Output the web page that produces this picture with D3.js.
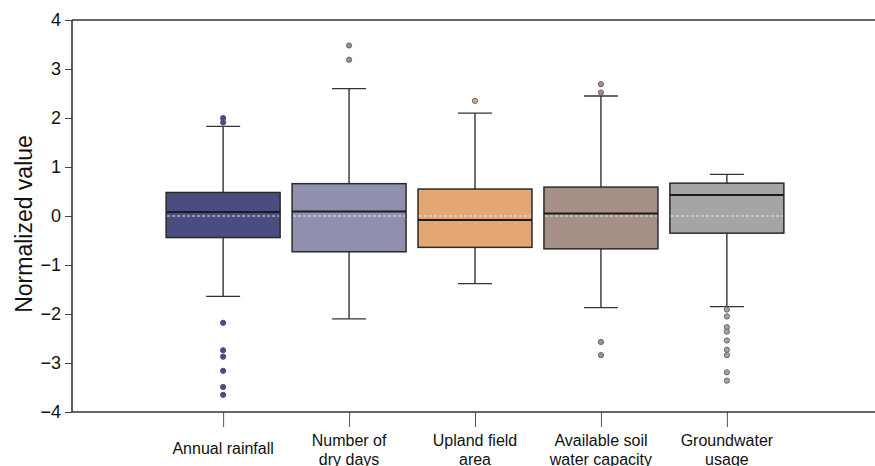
<!DOCTYPE html>
<html>
<head>
<meta charset="utf-8">
<script src="https://cdn.jsdelivr.net/npm/d3@7"></script>
<style>
  body { margin: 0; background: #fff; }
  text { font-family: "Liberation Sans", Arial, sans-serif; }
</style>
</head>
<body>
<svg id="chart" width="875" height="466"></svg>
<script>
// categories, one entry per line of the tick label
var categories = [
  ["Annual rainfall"],
  ["Number of", "dry days"],
  ["Upland field", "area"],
  ["Available soil", "water capacity"],
  ["Groundwater", "usage"]
];
var colors = ["#494d80", "#8f90ad", "#e4a673", "#a69088", "#a5a5a5"];

// box stats
var q1 = [-0.44, -0.73, -0.64, -0.67, -0.35];
var median = [0.08, 0.09, -0.08, 0.05, 0.43];
var q3 = [0.48, 0.66, 0.55, 0.59, 0.67];
var whiskerLow = [-1.64, -2.10, -1.38, -1.87, -1.85];
var whiskerHigh = [1.83, 2.60, 2.10, 2.45, 0.85];
var means = [0, 0, 0, 0, 0];
var outliers = [
  [2.00, 1.91, -2.18, -2.74, -2.87, -3.16, -3.49, -3.65],
  [3.48, 3.19],
  [2.35],
  [2.69, 2.52, -2.57, -2.84],
  [-1.91, -2.05, -2.27, -2.36, -2.54, -2.73, -2.84, -3.19, -3.36]
];
var yTicks = [-4, -3, -2, -1, 0, 1, 2, 3, 4];

var svg = d3.select("#chart");
var plotLeft = 72, plotTop = 20, plotBottom = 412, W = 875;

var x = d3.scalePoint()
    .domain(d3.range(categories.length))
    .range([plotLeft, 878])
    .padding(1.2);
var step = x.step();
var boxW = step * 0.905, capW = step * 0.27;

var y = d3.scaleLinear().domain([-4, 4]).range([plotBottom, plotTop]);

// y axis
var yAxis = svg.append("g")
    .attr("transform", "translate(" + plotLeft + ",0)")
    .call(d3.axisLeft(y).tickValues(yTicks).tickSize(7).tickPadding(4));
yAxis.select(".domain").remove();
yAxis.selectAll(".tick line").attr("stroke", "#444").attr("stroke-width", 1);
yAxis.selectAll(".tick text")
    .style("font-size", "18px")
    .attr("fill", "#111");

// x axis ticks
var xAxis = svg.append("g")
    .attr("transform", "translate(0," + plotBottom + ")")
    .call(d3.axisBottom(x).tickSize(15).tickFormat(""));
xAxis.select(".domain").remove();
xAxis.selectAll(".tick line").attr("stroke", "#555").attr("stroke-width", 1);

// spines
svg.append("line").attr("x1", plotLeft).attr("x2", plotLeft).attr("y1", plotTop).attr("y2", plotBottom)
    .attr("stroke", "#333").attr("stroke-width", 1.6);
svg.append("line").attr("x1", plotLeft).attr("x2", W).attr("y1", plotTop).attr("y2", plotTop)
    .attr("stroke", "#333").attr("stroke-width", 1.6);
svg.append("line").attr("x1", plotLeft).attr("x2", W).attr("y1", plotBottom).attr("y2", plotBottom)
    .attr("stroke", "#333").attr("stroke-width", 1.6);

// boxes
var g = svg.append("g");
categories.forEach(function(c, i) {
  var cx = x(i);
  var b = g.append("g");
  // whiskers
  b.append("line").attr("x1", cx).attr("x2", cx)
      .attr("y1", y(q3[i])).attr("y2", y(whiskerHigh[i]))
      .attr("stroke", "#333").attr("stroke-width", 1.4);
  b.append("line").attr("x1", cx).attr("x2", cx)
      .attr("y1", y(q1[i])).attr("y2", y(whiskerLow[i]))
      .attr("stroke", "#333").attr("stroke-width", 1.4);
  [whiskerHigh[i], whiskerLow[i]].forEach(function(v) {
    b.append("line").attr("x1", cx - capW / 2).attr("x2", cx + capW / 2)
        .attr("y1", y(v)).attr("y2", y(v))
        .attr("stroke", "#333").attr("stroke-width", 1.4);
  });
  b.append("rect")
      .attr("x", cx - boxW / 2).attr("width", boxW)
      .attr("y", y(q3[i])).attr("height", y(q1[i]) - y(q3[i]))
      .attr("fill", colors[i]).attr("stroke", "#2a2a2a").attr("stroke-width", 1.5);
  b.append("line").attr("x1", cx - boxW / 2).attr("x2", cx + boxW / 2)
      .attr("y1", y(median[i])).attr("y2", y(median[i]))
      .attr("stroke", "#1c1c1c").attr("stroke-width", 2);
  b.append("line").attr("x1", cx - boxW / 2 + 1).attr("x2", cx + boxW / 2 - 1)
      .attr("y1", y(means[i])).attr("y2", y(means[i]))
      .attr("stroke", "#e6e6e6").attr("stroke-width", 1).attr("stroke-dasharray", "3,2");
  b.selectAll("circle").data(outliers[i]).enter().append("circle")
      .attr("cx", cx).attr("cy", function(d) { return y(d); })
      .attr("r", 2.6)
      .attr("fill", colors[i])
      .attr("stroke", i == 0 ? colors[0] : "#666")
      .attr("stroke-width", 1);
});

// x labels
categories.forEach(function(lines, i) {
  var t = svg.append("text")
      .attr("x", x(i))
      .attr("text-anchor", "middle")
      .style("font-size", "16px")
      .attr("fill", "#111");
  var y0 = lines.length == 1 ? 448 : 440;
  lines.forEach(function(l, k) {
    t.append("tspan").attr("x", x(i)).attr("y", y0 + k * 19)
        .attr("dy", "0.35em").text(l);
  });
});

// y label
svg.append("text")
    .attr("transform", "translate(24,224) rotate(-90)")
    .attr("text-anchor", "middle")
    .attr("dy", "0.35em")
    .style("font-size", "23px")
    .attr("fill", "#111")
    .text("Normalized value");
</script>
</body>
</html>
